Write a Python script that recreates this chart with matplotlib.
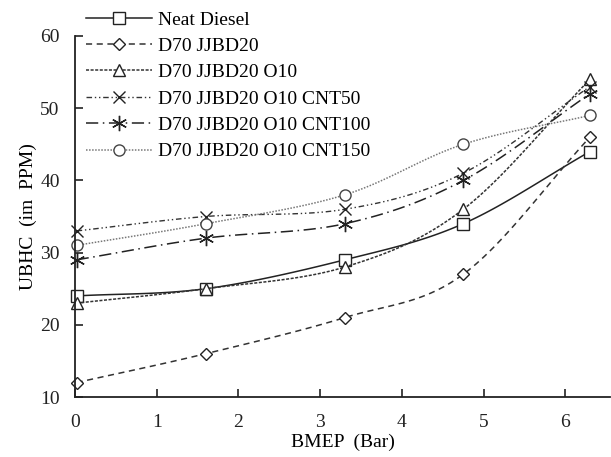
import numpy as np
import matplotlib
matplotlib.use("Agg")
import matplotlib.pyplot as plt
from matplotlib.lines import Line2D

bmep = [0.02, 1.6, 3.3, 4.75, 6.3]
series_names = ["Neat Diesel", "D70 JJBD20", "D70 JJBD20 O10",
                "D70 JJBD20 O10 CNT50", "D70 JJBD20 O10 CNT100", "D70 JJBD20 O10 CNT150"]
neat_diesel = [24, 25, 29, 34, 44]
d70_jjbd20 = [12, 16, 21, 27, 46]
d70_o10 = [23, 25, 28, 36, 54]
d70_cnt50 = [33, 35, 36, 41, 53]
d70_cnt100 = [29, 32, 34, 40, 52]
d70_cnt150 = [31, 34, 38, 45, 49]
x_ticks = [0, 1, 2, 3, 4, 5, 6]
y_ticks = [10, 20, 30, 40, 50, 60]

plt.rcParams['font.family'] = ['Liberation Serif', 'DejaVu Serif']

def smooth(x, y, n=30):
    x = np.asarray(x, float); y = np.asarray(y, float)
    px = np.concatenate([[2*x[0]-x[1]], x, [2*x[-1]-x[-2]]])
    py = np.concatenate([[2*y[0]-y[1]], y, [2*y[-1]-y[-2]]])
    xs, ys = [], []
    t = np.linspace(0, 1, n)
    for i in range(1, len(px)-2):
        p0, p1, p2, p3 = [np.array([px[j], py[j]]) for j in (i-1, i, i+1, i+2)]
        pts = 0.5*((2*p1)[None, :] + np.outer(t, (-p0+p2)) + np.outer(t**2, (2*p0-5*p1+4*p2-p3))
                   + np.outer(t**3, (-p0+3*p1-3*p2+p3)))
        xs.extend(pts[:, 0]); ys.extend(pts[:, 1])
    return xs, ys

styles = [
    dict(ls='-', marker='s', color='#222222', lw=1.1, ms=8),
    dict(ls=(0, (4, 3)), marker='D', color='#333333', lw=1.1, ms=6),
    dict(ls=(0, (2, 1)), marker='^', color='#333333', lw=1.1, ms=8),
    dict(ls=(0, (4, 2, 1, 2, 1, 2)), marker='x', color='#333333', lw=1.0, ms=9),
    dict(ls=(0, (8, 3, 1, 3)), marker=(6, 2, 0), color='#222222', lw=1.1, ms=11),
    dict(ls=(0, (1, 1)), marker='o', color='#777777', lw=1.1, ms=8),
]
data = [neat_diesel, d70_jjbd20, d70_o10, d70_cnt50, d70_cnt100, d70_cnt150]

fig = plt.figure(figsize=(6.11, 4.57), dpi=100)
ax = fig.add_axes([75/611, 60/457, 1 - 75/611 - 0.001, (397-36)/457])

handles = []
for name, y, st in zip(series_names, data, styles):
    sx, sy = smooth(bmep, y)
    ax.plot(sx, sy, ls=st['ls'], color=st['color'], lw=st['lw'])
    mec = '#222222' if st['color'] != '#777777' else '#444444'
    ax.plot(bmep, y, ls='none', marker=st['marker'], ms=st['ms'], mfc='white',
            mec=mec, mew=1.0, clip_on=False)
    handles.append(Line2D([], [], ls=st['ls'], color=st['color'], lw=st['lw'],
                          marker=st['marker'], ms=st['ms'], mfc='white', mec=mec, mew=1.0))

ax.set_xlim(0, 6.55)
ax.set_ylim(10, 60)
ax.set_xticks(x_ticks)
ax.set_yticks(y_ticks)
ax.spines['top'].set_visible(False)
ax.spines['right'].set_visible(False)
for s in ['left', 'bottom']:
    ax.spines[s].set_linewidth(1.3)
    ax.spines[s].set_color('#222222')
ax.tick_params(direction='in', length=6, width=1.2, labelsize=14, colors='#222222')
ax.tick_params(axis='x', pad=12)
ax.tick_params(axis='y', pad=11)
ax.set_xlabel("BMEP  (Bar)", fontsize=14, labelpad=2)
ax.set_ylabel("UBHC  (im  PPM)", fontsize=14, labelpad=2)

leg = fig.legend(handles=handles, labels=series_names, loc='upper left',
                 bbox_to_anchor=(84/611, 1 - 9/457), frameon=False, fontsize=14,
                 handlelength=3.4, handletextpad=0.3, labelspacing=0.45,
                 borderaxespad=0.0, borderpad=0.1)

fig.savefig("out.png", dpi=100)
